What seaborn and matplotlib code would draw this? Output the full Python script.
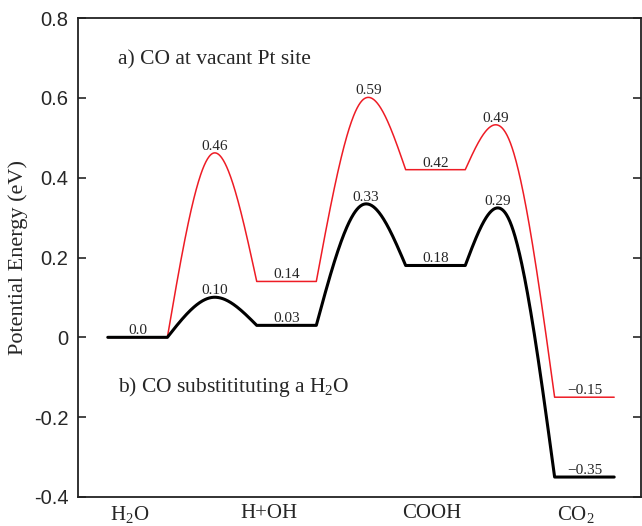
import numpy as np
import matplotlib
matplotlib.use("Agg")
import matplotlib.pyplot as plt
import seaborn as sns

# Energies (eV) of the minima and transition states
steps = ["H$_2$O", "H+OH", "COOH", "CO$_2$"]
red_minima = [0.0, 0.14, 0.42, -0.15]     # a) CO at vacant Pt site
red_ts = [0.46, 0.59, 0.49]
black_minima = [0.0, 0.03, 0.18, -0.35]   # b) CO substituting a H2O
black_ts = [0.10, 0.33, 0.29]

# layout of the reaction coordinate
level_start = [0.0, 2.5, 5.0, 7.5]
level_width = 1.0
step_ticks = [0.37, 2.70, 5.44, 7.85]

sns.set_theme(style="ticks")
plt.rcParams["font.family"] = ["Liberation Serif", "DejaVu Serif"]
plt.rcParams["mathtext.fontset"] = "custom"
plt.rcParams["mathtext.rm"] = "Liberation Serif"
plt.rcParams["mathtext.it"] = "Liberation Serif:italic"


def spline3(xa, ya, xt, yt, xb, yb, n=80):
    # natural cubic spline through the three points of a barrier
    h0, h1 = xt - xa, xb - xt
    m = 3 * ((yb - yt) / h1 - (yt - ya) / h0) / (h0 + h1)
    xs, ys = [], []
    for (x0, y0, m0), (x1, y1, m1) in [((xa, ya, 0.0), (xt, yt, m)),
                                         ((xt, yt, m), (xb, yb, 0.0))]:
        h = x1 - x0
        x = np.linspace(x0, x1, n)
        y = (m0 * (x1 - x) ** 3 / (6 * h) + m1 * (x - x0) ** 3 / (6 * h)
             + (y0 - m0 * h * h / 6) * (x1 - x) / h
             + (y1 - m1 * h * h / 6) * (x - x0) / h)
        xs.append(x)
        ys.append(y)
    return np.concatenate(xs), np.concatenate(ys)


def profile(minima, ts):
    xs, ys, peaks = [], [], []
    for i, e in enumerate(minima):
        x0 = level_start[i]
        xs.append([x0, x0 + level_width])
        ys.append([e, e])
        if i < len(ts):
            xa = x0 + level_width
            xb = level_start[i + 1]
            bx, by = spline3(xa, e, (xa + xb) / 2, ts[i], xb, minima[i + 1])
            xs.append(bx)
            ys.append(by)
            k = np.argmax(by)
            peaks.append((bx[k], by[k]))
    return np.concatenate(xs), np.concatenate(ys), peaks


def fmt(v):
    if v == 0:
        return "0.0"
    return f"{v:.2f}".replace("-", "\u2212")


fig = plt.figure(figsize=(6.42, 5.26), dpi=100)
ax = fig.add_axes([78 / 642, 29 / 526, 563 / 642, 479 / 526])

for minima, ts, color, lw in [(red_minima, red_ts, "#ee1c25", 1.1),
                              (black_minima, black_ts, "black", 2.2)]:
    x, y, peaks = profile(minima, ts)
    sns.lineplot(x=x, y=y, sort=False, color=color, lw=lw, ax=ax,
                 estimator=None)
    for i, e in enumerate(minima):
        if i == 0 and color != "black":
            continue
        ax.text(level_start[i] + level_width / 2, e, fmt(e), ha="center",
                va="bottom", fontsize=11)
    for (px, py), v in zip(peaks, ts):
        ax.text(px, py, fmt(v), ha="center", va="bottom", fontsize=11)

ax.text(0.17, 0.695, "a) CO at vacant Pt site", fontsize=15.5, va="center")
ax.text(0.17, -0.125, "b) CO substitituting a H$_2$O", fontsize=15.5,
        va="center")

ax.set_xlim(-0.5, 8.95)
ax.set_ylim(-0.4, 0.8)
ax.set_xticks(step_ticks)
ax.set_xticklabels(steps, fontsize=15)
yt = [-0.4, -0.2, 0, 0.2, 0.4, 0.6, 0.8]
ax.set_yticks(yt)
ax.set_yticklabels(["-0.4", "-0.2", "0", "0.2", "0.4", "0.6", "0.8"],
                   fontsize=14.5, family="Liberation Sans")
ax.tick_params(axis="x", length=0, pad=5)
ax.tick_params(axis="y", direction="in", length=6, width=1.2, pad=7,
               right=True, left=True)
ax.set_ylabel("Potential Energy (eV)", fontsize=16, labelpad=4)
for s in ax.spines.values():
    s.set_visible(True)
    s.set_linewidth(1.3)
    s.set_color("#222222")

fig.savefig("out.png", dpi=100)
